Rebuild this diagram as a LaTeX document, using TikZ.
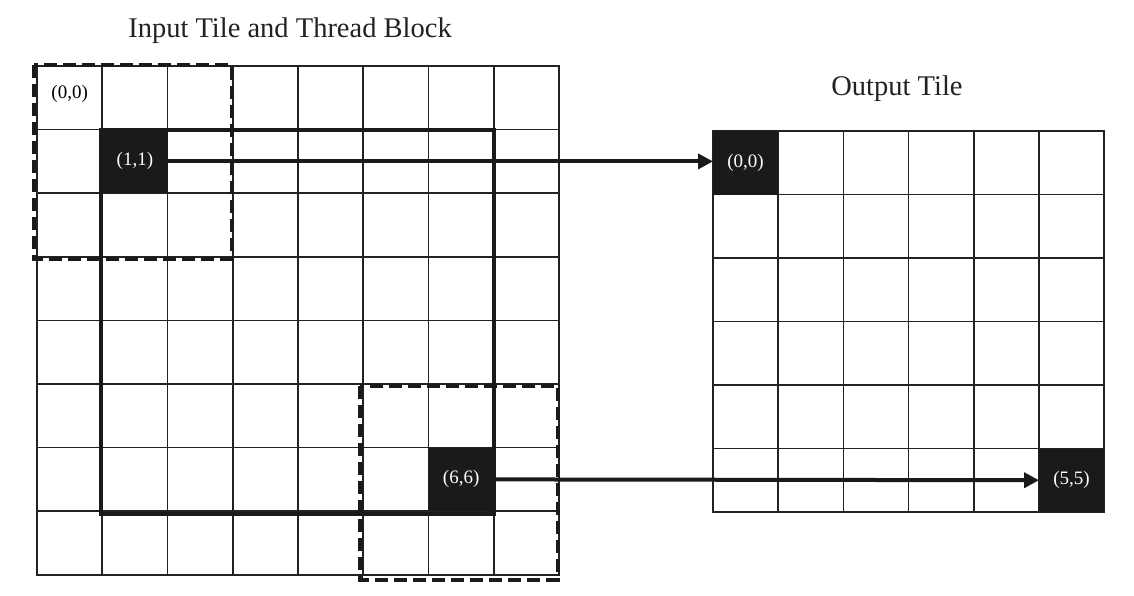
\documentclass[tikz,border=0pt]{standalone}
\usepackage{fontspec}
\setmainfont{Liberation Serif}
\usetikzlibrary{arrows.meta}
\definecolor{gridcol}{HTML}{222222}
\definecolor{cellblack}{HTML}{1A1A1A}
\begin{document}
\begin{tikzpicture}[x=1pt,y=-1pt,
  incell/.style={draw=gridcol, line width=1.6pt, minimum width=65.25pt, minimum height=63.6pt, inner sep=0pt, outer sep=0pt},
  outcell/.style={draw=gridcol, line width=1.6pt, minimum width=65.2pt, minimum height=63.5pt, inner sep=0pt, outer sep=0pt},
  celltext/.style={font=\fontsize{19}{21}\selectfont, inner sep=0pt},
  hottext/.style={celltext, text=white},
  title/.style={font=\fontsize{28.5}{31}\selectfont, text=gridcol},
  thickline/.style={draw=cellblack, line width=4pt},
  dashbox/.style={draw=cellblack, line width=4.5pt, dash pattern=on 13pt off 6pt},
  flow/.style={draw=cellblack, line width=4pt, -{Triangle[length=15pt,width=15pt]}}
]
\useasboundingbox (0,0) rectangle (1134,596);
\fill[white] (0,0) rectangle (1134,596);

% titles
\node[title] (t-in) at (290,31) {Input Tile and Thread Block};
\node[title] (t-out) at (897,89) {Output Tile};

% input grid 8x8
\foreach \r in {0,...,7}{
  \foreach \c in {0,...,7}{
    \node[incell] (in-\r-\c) at ({37+65.25*(\c+0.5)},{66+63.6*(\r+0.5)}) {};
  }
}
% output grid 6x6
\foreach \r in {0,...,5}{
  \foreach \c in {0,...,5}{
    \node[outcell] (out-\r-\c) at ({713+65.2*(\c+0.5)},{131+63.5*(\r+0.5)}) {};
  }
}

% black cells
\fill[cellblack] (in-1-1.north west) rectangle (in-1-1.south east);
\fill[cellblack] (in-6-6.north west) rectangle (in-6-6.south east);
\fill[cellblack] (out-0-0.north west) rectangle (out-0-0.south east);
\fill[cellblack] (out-5-5.north west) rectangle (out-5-5.south east);

% labels
\node[celltext] (l-in00) at ([yshift=4pt]in-0-0.center) {(0,0)};
\node[hottext] (l-in11) at (in-1-1) {(1,1)};
\node[hottext] (l-in66) at (in-6-6) {(6,6)};
\node[hottext] (l-out00) at (out-0-0) {(0,0)};
\node[hottext] (l-out55) at (out-5-5) {(5,5)};

% thread block outline
\draw[thickline] ([xshift=-1pt]in-1-1.north west) rectangle ([yshift=-3pt]in-6-6.south east);

% dashed input tiles
\draw[dashbox] ([xshift=-3pt,yshift=1pt]in-0-0.north west) rectangle ([xshift=-1pt,yshift=-2pt]in-2-2.south east);
\draw[dashbox] ([xshift=-3pt,yshift=-2pt]in-5-5.north west) rectangle ([xshift=-1pt,yshift=-5pt]in-7-7.south east);

% arrows
\draw[flow] (in-1-1.east) -- (in-1-1.east -| out-0-0.west);
\draw[flow] (in-6-6.east) -- (out-5-5.west);
\end{tikzpicture}
\end{document}
